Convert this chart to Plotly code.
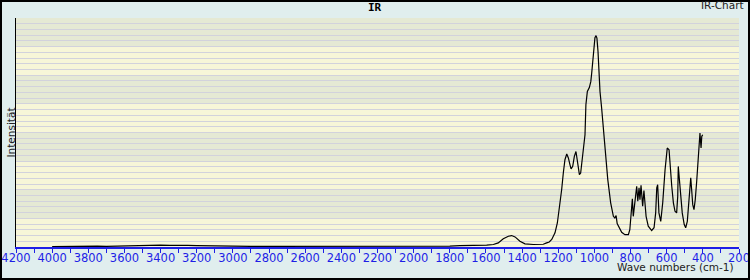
import plotly.graph_objects as go

wavenumbers = [4000, 3950, 3900, 3850, 3800, 3750, 3700, 3650, 3600, 3550, 3500, 3450, 3400, 3350,
               3300, 3250, 3200, 3150, 3100, 3050, 3000, 2900, 2800, 2700, 2600, 2500, 2400, 2300,
               2200, 2100, 2000, 1900, 1800, 1744, 1650, 1596, 1559, 1532, 1504, 1476, 1458, 1439,
               1412, 1384, 1338, 1301, 1283, 1264, 1250, 1236, 1218, 1205, 1194, 1181, 1172, 1163,
               1153, 1144, 1135, 1129, 1120, 1111, 1102, 1095, 1088, 1083, 1076, 1067, 1058, 1052,
               1047, 1039, 1028, 1020, 1015, 1010, 1002, 997, 991, 986, 980, 975, 969, 960, 952,
               948, 941, 926, 910, 895, 887, 880, 874, 858, 849, 831, 812, 804, 799, 794, 790, 785,
               776, 766, 760, 753, 748, 742, 733, 726, 714, 702, 683, 670, 661, 655, 650, 643, 633,
               622, 609, 597, 587, 582, 572, 563, 554, 545, 539, 536, 530, 527, 521, 514, 503, 495,
               486, 478, 475, 467, 462, 456, 449, 442, 434, 425, 420, 416, 410, 406, 401]
intensity = [0.002, 0.003, 0.002, 0.003, 0.003, 0.004, 0.003, 0.004, 0.005, 0.006, 0.008, 0.007,
             0.008, 0.007, 0.008, 0.007, 0.006, 0.005, 0.004, 0.004, 0.003, 0.003, 0.003, 0.003,
             0.002, 0.003, 0.003, 0.003, 0.004, 0.003, 0.003, 0.003, 0.004, 0.006, 0.006, 0.008,
             0.011, 0.018, 0.036, 0.047, 0.050, 0.044, 0.025, 0.014, 0.011, 0.011, 0.012, 0.018,
             0.022, 0.033, 0.062, 0.105, 0.163, 0.251, 0.323, 0.381, 0.406, 0.389, 0.359, 0.341,
             0.352, 0.396, 0.417, 0.381, 0.338, 0.316, 0.323, 0.381, 0.454, 0.490, 0.621, 0.679,
             0.696, 0.722, 0.759, 0.810, 0.882, 0.914, 0.923, 0.912, 0.853, 0.766, 0.679, 0.607,
             0.534, 0.468, 0.425, 0.294, 0.193, 0.134, 0.127, 0.137, 0.102, 0.076, 0.064, 0.054,
             0.054, 0.076, 0.120, 0.178, 0.211, 0.134, 0.207, 0.265, 0.200, 0.258, 0.207, 0.269,
             0.178, 0.247, 0.134, 0.091, 0.072, 0.084, 0.149, 0.258, 0.272, 0.149, 0.112, 0.193,
             0.338, 0.432, 0.425, 0.352, 0.265, 0.193, 0.156, 0.149, 0.221, 0.352, 0.294, 0.243,
             0.193, 0.149, 0.098, 0.084, 0.112, 0.200, 0.251, 0.302, 0.251, 0.185, 0.163, 0.207,
             0.287, 0.410, 0.490, 0.498, 0.432, 0.483, 0.490]

x_range = [4200, 200]
y_range = [0, 1]
major_dtick = 200
minor_dtick = 100

W, H = 750, 280
ML, MR, MT, MB = 16, 11, 18, 33
PW, PH = W - ML - MR, H - MT - MB

def px_x(p):
    return (p - ML) / PW

def px_y(p):
    return (H - MB - p) / PH

fig = go.Figure()
fig.add_trace(go.Scatter(x=wavenumbers, y=intensity, mode="lines",
                         line=dict(color="black", width=1.2), hoverinfo="skip",
                         showlegend=False))

shapes = []
band_colors = ["#f7f6d8", "#e5e9d4"]
n_bands = 8
for i in range(n_bands):
    shapes.append(dict(type="rect", xref="paper", yref="paper", x0=0, x1=1,
                       y0=i / n_bands, y1=(i + 1) / n_bands, layer="below",
                       fillcolor=band_colors[i % 2], line=dict(width=0)))
# outer frame
shapes.append(dict(type="rect", xref="paper", yref="paper",
                   x0=px_x(1), x1=px_x(W - 1), y0=px_y(H - 1), y1=px_y(1),
                   line=dict(color="black", width=2), fillcolor="rgba(0,0,0,0)",
                   layer="above"))

font = "DejaVu Sans"
annotations = [
    dict(text="IR", x=px_x(375), y=px_y(8), xref="paper", yref="paper",
         showarrow=False, xanchor="center", yanchor="middle",
         font=dict(family="DejaVu Sans Mono", size=11, color="black", weight="bold")),
    dict(text="IR-Chart", x=px_x(746), y=px_y(4.5), xref="paper", yref="paper",
         showarrow=False, xanchor="right", yanchor="middle",
         font=dict(family=font, size=10.5, color="#222222")),
    dict(text="Intensität", x=px_x(10), y=0.5, xref="paper", yref="paper",
         showarrow=False, xanchor="center", yanchor="middle", textangle=-90,
         font=dict(family=font, size=10.5, color="#222222")),
    dict(text="Wave numbers (cm-1)", x=px_x(736), y=px_y(266.5), xref="paper", yref="paper",
         showarrow=False, xanchor="right", yanchor="middle",
         font=dict(family=font, size=10.5, color="#222222")),
]

fig.update_layout(
    template="none",
    width=W, height=H,
    margin=dict(l=ML, r=MR, t=MT, b=MB, pad=0, autoexpand=False),
    paper_bgcolor="#e0eeee",
    plot_bgcolor="#f7f6d8",
    shapes=shapes,
    annotations=annotations,
    showlegend=False,
    xaxis=dict(range=x_range, dtick=major_dtick, tick0=0, ticks="outside", ticklen=4,
               tickcolor="#1e1ee6", tickwidth=1, showline=True, linecolor="#1e1ee6",
               linewidth=1.5, showgrid=False, zeroline=False, automargin=False,
               ticklabelstandoff=-5,
               tickfont=dict(family=font, size=11.5, color="#1e1ee6"),
               minor=dict(dtick=minor_dtick, ticks="outside", ticklen=4,
                          tickcolor="#1e1ee6", showgrid=False)),
    yaxis=dict(range=y_range, dtick=0.025, showticklabels=False, ticks="",
               showline=True, linecolor="black", linewidth=1.2, showgrid=True,
               gridcolor="#d2d2dc", gridwidth=1, zeroline=False, automargin=False),
)

fig.write_html("out.html")
